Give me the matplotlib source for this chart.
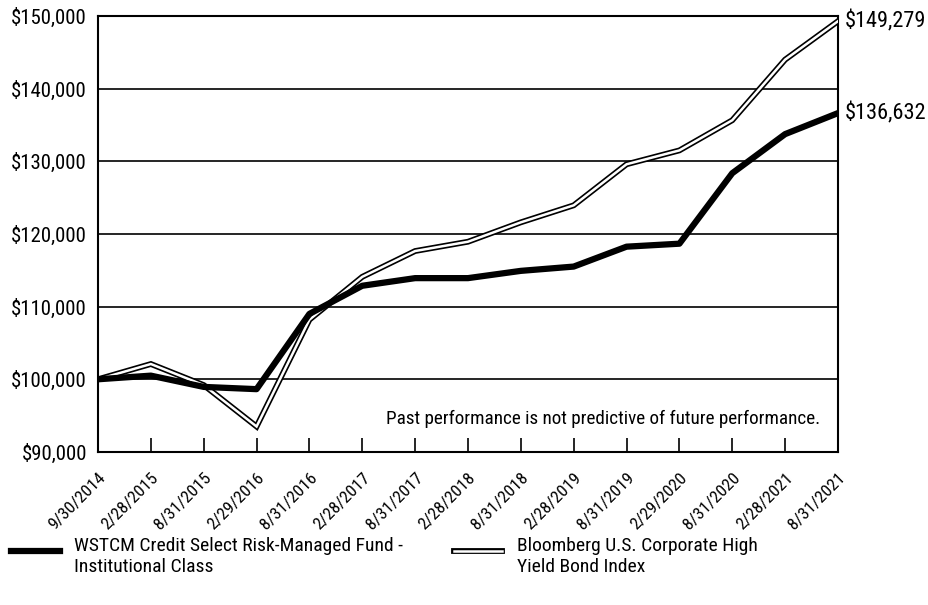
import matplotlib
matplotlib.use("Agg")
import matplotlib.pyplot as plt
from matplotlib.lines import Line2D
from matplotlib.legend_handler import HandlerTuple, HandlerLine2D
from matplotlib.ticker import FuncFormatter

plt.rcParams['font.family'] = ['Roboto Condensed', 'Liberation Sans Narrow', 'Roboto', 'DejaVu Sans']

dates = ['9/30/2014', '2/28/2015', '8/31/2015', '2/29/2016', '8/31/2016',
         '2/28/2017', '8/31/2017', '2/28/2018', '8/31/2018', '2/28/2019',
         '8/31/2019', '2/29/2020', '8/31/2020', '2/28/2021', '8/31/2021']
fund = [100000, 100500, 98950, 98640, 109000, 112870, 113920, 113920,
        114920, 115510, 118250, 118660, 128360, 133740, 136632]
index = [100000, 102100, 99200, 93500, 108200, 114100, 117650, 118930,
         121600, 123940, 129590, 131500, 135650, 143990, 149279]
fund_name = 'WSTCM Credit Select Risk-Managed Fund -\nInstitutional Class'
index_name = 'Bloomberg U.S. Corporate High\nYield Bond Index'
note = 'Past performance is not predictive of future performance.'


# legend handles sit on the first text line, not the middle of the block
class UpLine(HandlerLine2D):
    def create_artists(self, legend, orig_handle, xdescent, ydescent, width, height, fontsize, trans):
        return super().create_artists(legend, orig_handle, xdescent, ydescent - 0.6 * fontsize,
                                      width, height, fontsize, trans)


fig = plt.figure(figsize=(9.29, 6.05), dpi=100)
ax = fig.add_axes([0.1055, 0.253, 0.7965, 0.7206])

x = list(range(len(dates)))
ax.plot(x, index, color='black', lw=4.2, solid_joinstyle='miter', zorder=3)
ax.plot(x, index, color='white', lw=1.8, solid_joinstyle='miter', zorder=4)
ax.plot(x, fund, color='black', lw=4.5, solid_joinstyle='round', zorder=5)

ax.set_xlim(0, len(dates) - 1)
ax.set_ylim(90000, 150000)
ax.set_yticks(range(90000, 150001, 10000))
ax.yaxis.set_major_formatter(FuncFormatter(lambda v, p: f'${v:,.0f}'))
ax.grid(axis='y', color='black', lw=1.2)
ax.set_axisbelow(True)
for s in ax.spines.values():
    s.set_linewidth(1.5)

ax.set_xticks(x)
ax.set_xticklabels(dates, rotation=45, ha='right', va='top', rotation_mode='anchor')
ax.tick_params(axis='x', direction='in', length=10, width=1.2, pad=13, labelsize=12.5)
ax.tick_params(axis='y', length=0, pad=8, labelsize=15)

ax.text(0.976, 0.075, note, transform=ax.transAxes, ha='right', va='center', fontsize=13.8)

ax.annotate(f'${index[-1]:,}', (x[-1], index[-1]), xytext=(5, 0),
            textcoords='offset points', va='center', fontsize=16, annotation_clip=False)
ax.annotate(f'${fund[-1]:,}', (x[-1], fund[-1]), xytext=(5, 0),
            textcoords='offset points', va='center', fontsize=16, annotation_clip=False)

h_fund = Line2D([], [], color='black', lw=4.5)
h_index = (Line2D([], [], color='black', lw=4.2), Line2D([], [], color='white', lw=1.8))
fig.legend([h_fund, h_index], [fund_name, index_name], ncol=2, frameon=False,
           loc='upper left', bbox_to_anchor=(0.0118, 0.112), borderaxespad=0, borderpad=0,
           fontsize=14, handlelength=2.5, columnspacing=2.6, handletextpad=0.75,
           handler_map={tuple: HandlerTuple(ndivide=1), Line2D: UpLine()})

fig.savefig('out.png', dpi=100)
